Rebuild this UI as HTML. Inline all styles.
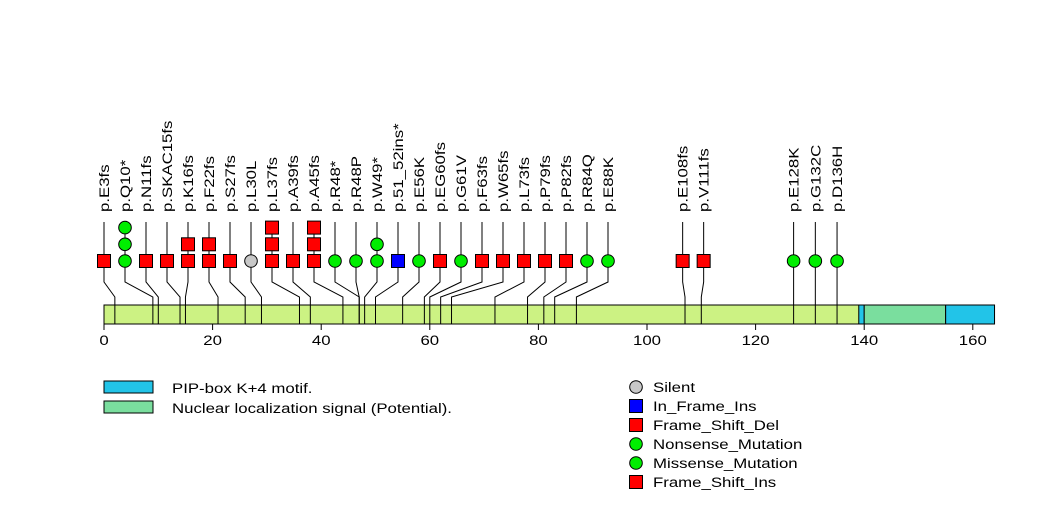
<!DOCTYPE html>
<html><head><meta charset="utf-8"><style>body{margin:0;background:#fff}svg{display:block}text{font-family:"Liberation Sans",sans-serif}</style></head>
<body>
<svg id="chart" width="1047" height="524" xmlns="http://www.w3.org/2000/svg"></svg>
<script>
const mutPositions=[3,10,11,15,16,22,27,30,37,39,45,48,48,49,51,56,60,61,63,65,73,79,82,84,88,108,111,128,132,136];
const mutLabels=["p.E3fs","p.Q10*","p.N11fs","p.SKAC15fs","p.K16fs","p.F22fs","p.S27fs","p.L30L","p.L37fs","p.A39fs","p.A45fs","p.R48*","p.R48P","p.W49*","p.51_52ins*","p.E56K","p.EG60fs","p.G61V","p.F63fs","p.W65fs","p.L73fs","p.P79fs","p.P82fs","p.R84Q","p.E88K","p.E108fs","p.V111fs","p.E128K","p.G132C","p.D136H"];
const mutTypes=[["FSD"],["N","N","N"],["FSD"],["FSD"],["FSD","FSD"],["FSD","FSD"],["FSD"],["S"],["FSD","FSD","FSD"],["FSD"],["FSD","FSD","FSD"],["N"],["M"],["N","N"],["IFI"],["M"],["FSD"],["M"],["FSD"],["FSD"],["FSD"],["FSD"],["FSD"],["M"],["M"],["FSD"],["FSD"],["M"],["M"],["M"]];
const proteinLength=164;
const domainNames=["PIP-box K+4 motif.","Nuclear localization signal (Potential).","PIP-box K+4 motif."];
const domainStarts=[139,140,155];
const domainEnds=[140,155,164];
const axisTicks=[0,20,40,60,80,100,120,140,160];
const legendTypes=["Silent","In_Frame_Ins","Frame_Shift_Del","Nonsense_Mutation","Missense_Mutation","Frame_Shift_Ins"];
const legendKeys=["S","IFI","FSD","N","M","FSI"];

const NS="http://www.w3.org/2000/svg";
const svg=document.getElementById('chart');
const X0=104,SC=5.43,SX=1.2;
function x(v){return X0+v*SC;}
function mk(tag,attrs,parent){const e=document.createElementNS(NS,tag);for(const k in attrs)e.setAttribute(k,attrs[k]);(parent||svg).appendChild(e);return e;}
const colors={S:"#c8c8c8",IFI:"#0000ff",FSD:"#ff0000",N:"#00ee00",M:"#00ee00",FSI:"#ff0000"};
const shapes={S:"c",IFI:"r",FSD:"r",N:"c",M:"c",FSI:"r"};
function marker(t,cx,cy,name){
  let e;
  if(shapes[t]==="r"){e=mk('rect',{x:cx-6.5,y:cy-6.5,width:13,height:13,fill:colors[t],stroke:"#000","stroke-width":1});}
  else{e=mk('circle',{cx:cx,cy:cy,r:6.3,fill:colors[t],stroke:"#000","stroke-width":1});}
  
  
  return e;
}
function htext(px,py,str,anchor,parent){
  const t=mk('text',{x:0,y:0,"font-size":14,"text-anchor":anchor||"start",transform:`translate(${px} ${py}) scale(${SX} 1)`},parent);
  t.textContent=str;return t;
}
const ideal=mutPositions.map(p=>x(p-1));
const SP=21;
let clusters=ideal.map((v,i)=>({s:i,e:i,sum:v}));
function cstart(c){const n=c.e-c.s+1;let st=c.sum/n-(n-1)*SP/2;return Math.max(X0,st);}
let changed=true;
while(changed){changed=false;
  for(let i=0;i<clusters.length-1;i++){
    const a=clusters[i],b=clusters[i+1];
    const aEnd=cstart(a)+(a.e-a.s)*SP;
    if(cstart(b)<aEnd+SP){clusters.splice(i,2,{s:a.s,e:b.e,sum:a.sum+b.sum});changed=true;break;}
  }}
const heads=[];
clusters.forEach(c=>{const st=cstart(c);for(let i=c.s;i<=c.e;i++)heads[i]=st+(i-c.s)*SP;});

const bar=mk('rect',{x:x(0),y:305,width:x(proteinLength)-x(0),height:19,fill:"#ccf283",stroke:"#000","stroke-width":1});


const dcol=["#22c4e8","#7ade9e","#22c4e8"];
domainStarts.forEach((s,i)=>{
  const d=mk('rect',{x:x(s),y:305,width:x(domainEnds[i])-x(s),height:19,fill:dcol[i],stroke:"#000","stroke-width":1});
  
  
});
axisTicks.forEach(t=>{
  mk('line',{x1:x(t),y1:324,x2:x(t),y2:330,stroke:"#000"});
  const tx=htext(x(t),345,String(t),"middle");
  
  
});
mutPositions.forEach((p,i)=>{
  const bx=x(p-1),hx=heads[i];
  const g=mk('g',{});
  
  
  mk('polyline',{points:`${hx},222 ${hx},282 ${bx},297 ${bx},324`,fill:"none",stroke:"#000","stroke-width":1},g);
  mutTypes[i].forEach((t,j)=>{g.appendChild(marker(t,hx,261-j*16.7,'marker-'+t));});
  const tx=mk('text',{x:0,y:0,"font-size":14,transform:`translate(${hx+5} 212) rotate(-90) scale(${SX} 1)`},g);
  tx.textContent=mutLabels[i];
  
  
});
[[dcol[0],domainNames[0]],[dcol[1],domainNames[1]]].forEach((d,i)=>{
  const r=mk('rect',{x:104,y:381+i*20,width:49,height:12,fill:d[0],stroke:"#000"});
  
  
  const t=htext(172,393+i*20,d[1]);
  
  
});
legendTypes.forEach((n,i)=>{
  marker(legendKeys[i],636,387+i*19,'legend-marker');
  const t=htext(653,392+i*19,n);
  
  
});
</script>
</body></html>
